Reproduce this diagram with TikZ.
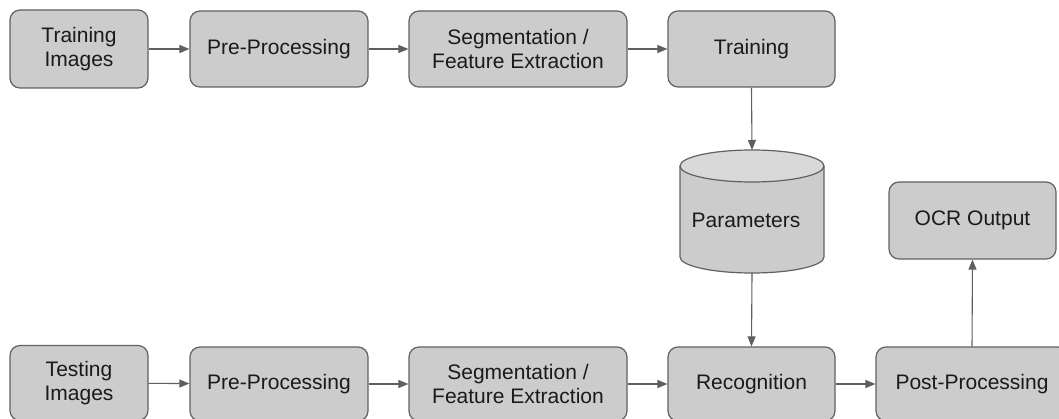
\documentclass[tikz,border=0pt]{standalone}
\usepackage{fontspec}
\setmainfont{Liberation Sans}
\usetikzlibrary{arrows.meta}
\definecolor{boxfill}{HTML}{CCCCCC}
\definecolor{boxline}{HTML}{616161}
\definecolor{arrowcol}{HTML}{5F5F5F}
\definecolor{topfill}{HTML}{D9D9D9}
\definecolor{txt}{HTML}{1A1A1A}
\tikzset{
  procbox/.style={draw=boxline, fill=boxfill, line width=1.2pt, rounded corners=10pt,
    align=center, inner sep=0pt, text=txt,
    font=\fontsize{21}{24}\selectfont},
  flow/.style={draw=arrowcol, line width=1.1pt, -{Triangle[length=10pt,width=8pt]}},
  cyl/.style={draw=boxline, line width=1.2pt},
}
\begin{document}
\begin{tikzpicture}[x=1pt,y=-1pt]
\useasboundingbox (0,0) rectangle (1059,419);
\fill[white] (0,0) rectangle (1059,419);
% top row
\node[procbox, minimum width=138pt, minimum height=78pt] (ti) at (79,49) {Training\\Images};
\node[procbox, minimum width=178pt, minimum height=76pt] (pp1) at (279,49) {Pre-Processing};
\node[procbox, minimum width=218pt, minimum height=76pt] (seg1) at (518,49) {Segmentation /\\Feature Extraction};
\node[procbox, minimum width=167pt, minimum height=76pt] (tr) at (751.5,49) {Training};
% cylinder (Parameters)
\fill[boxfill] (680,166) -- (680,257) arc[start angle=180,end angle=0,x radius=72,y radius=16]
  -- (824,166) arc[start angle=0,end angle=-180,x radius=72,y radius=16] -- cycle;
\draw[cyl] (680,166) -- (680,257) arc[start angle=180,end angle=0,x radius=72,y radius=16]
  -- (824,166);
\draw[cyl, fill=topfill] (752,166) ellipse[x radius=72,y radius=16];
\node[inner sep=0pt, text=txt, font=\fontsize{21}{24}\selectfont] at (746,220) {Parameters};
\coordinate (ptop) at (752,150);
\coordinate (pbot) at (752,273);
% OCR output
\node[procbox, minimum width=167pt, minimum height=77pt] (ocr) at (972.5,220.5) {OCR Output};
% bottom row
\node[procbox, minimum width=138pt, minimum height=75pt] (te) at (79,383) {Testing\\Images};
\node[procbox, minimum width=178pt, minimum height=74pt] (pp2) at (279,384) {Pre-Processing};
\node[procbox, minimum width=218pt, minimum height=74pt] (seg2) at (518,384) {Segmentation /\\Feature Extraction};
\node[procbox, minimum width=167pt, minimum height=74pt] (rec) at (751.5,384) {Recognition};
\node[procbox, minimum width=192pt, minimum height=74pt] (post) at (972,384) {Post-Processing};
% connectors
\draw[flow] (ti) -- (pp1);
\draw[flow] (pp1) -- (seg1);
\draw[flow] (seg1) -- (tr);
\draw[flow] (tr.south) -- (ptop);
\draw[flow] (pbot) -- (rec.north);
\draw[flow] (te) -- (pp2);
\draw[flow] (pp2) -- (seg2);
\draw[flow] (seg2) -- (rec);
\draw[flow] (rec) -- (post);
\draw[flow] (post.north) -- (ocr.south);
\end{tikzpicture}
\end{document}
